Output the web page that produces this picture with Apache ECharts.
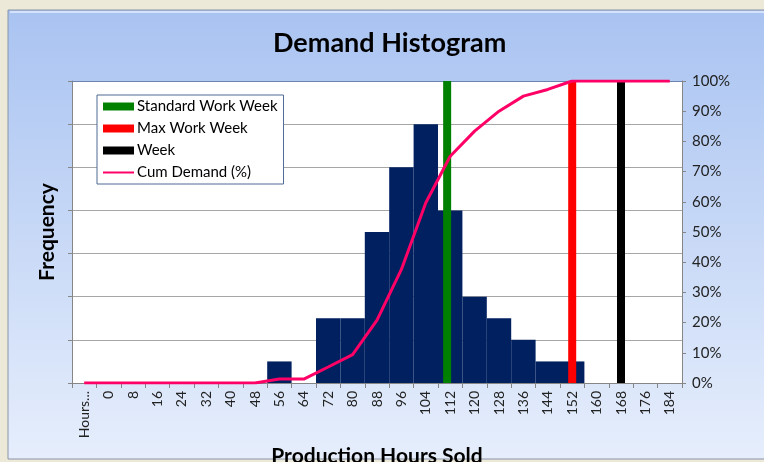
<!DOCTYPE html>
<html>
<head>
<meta charset="utf-8">
<title>Demand Histogram</title>
<script src="https://cdn.jsdelivr.net/npm/echarts@6/dist/echarts.min.js"></script>
<style>
  html, body { margin: 0; padding: 0; background: #ECE9D8; }
  #chart { width: 764px; height: 462px; }
</style>
</head>
<body>
<div id="chart"></div>
<script>
// categories on the x axis (bins of production hours)
const hourBins = ['Hours...', '0', '8', '16', '24', '32', '40', '48', '56', '64', '72', '80', '88',
  '96', '104', '112', '120', '128', '136', '144', '152', '160', '168', '176', '184'];
// frequency per bin
const frequency = [0, 0, 0, 0, 0, 0, 0, 0, 1, 0, 3, 3, 7, 10, 12, 8, 4, 3, 2, 1, 1, 0, 0, 0, 0];
// cumulative demand in %
const cumDemand = [0, 0, 0, 0, 0, 0, 0, 0, 1.3, 1.3, 5.3, 9.4, 20.8, 37.6, 59.7, 75.1, 83.4, 90, 95, 97.2, 100, 100, 100, 100, 100];
// reference weeks (hours)
const standardWorkWeek = 111;
const maxWorkWeek = 152;
const week = 168;

const font = 'Lato';
const chart = echarts.init(document.getElementById('chart'));

//一条竖线
function vline(name, hours, color) {
  return {
    name: name,
    type: 'line',
    xAxisIndex: 1,
    yAxisIndex: 1,
    symbol: 'none',
    data: [[hours, 0], [hours, 100]],
    lineStyle: { color: color, width: 8 },
    itemStyle: { color: color },
    z: 3
  };
}

const option = {
  backgroundColor: '#ECE9D8',
  animation: false,
  graphic: [
    {
      type: 'rect',
      z: -10,
      shape: { x: 8, y: 10, width: 800, height: 449 },
      style: {
        fill: new echarts.graphic.LinearGradient(0, 0, 0, 1, [
          { offset: 0, color: '#a9c3f1' },
          { offset: 1, color: '#e6eefc' }
        ]),
        stroke: '#8894a8',
        lineWidth: 1
      }
    },
    {
      type: 'line',
      z: -9,
      shape: { x1: 10, y1: 12, x2: 800, y2: 12 },
      style: { stroke: '#d4e2fc', lineWidth: 2 }
    }
  ],
  title: {
    text: 'Demand Histogram',
    left: 273,
    top: 30,
    padding: 0,
    textStyle: { fontFamily: font, fontSize: 27, fontWeight: 'bold', color: '#000' }
  },
  legend: {
    orient: 'vertical',
    left: 97,
    top: 95,
    padding: [4, 6, 4, 5],
    itemGap: 7,
    itemWidth: 31,
    itemHeight: 8,
    backgroundColor: '#fff',
    borderColor: '#4f6a95',
    borderWidth: 1,
    borderRadius: 0,
    textStyle: { fontFamily: font, fontSize: 15, color: '#000', padding: [0, 0, 0, -2] },
    data: [
      { name: 'Standard Work Week', icon: 'rect' },
      { name: 'Max Work Week', icon: 'rect' },
      { name: 'Week', icon: 'rect' },
      { name: 'Cum Demand (%)', itemStyle: { opacity: 0 } }
    ]
  },
  grid: {
    left: 72,
    right: 82,
    top: 81,
    bottom: 79,
    outerBoundsMode: 'none',
    containLabel: false,
    show: true,
    backgroundColor: '#fff',
    borderWidth: 0
  },
  xAxis: [
    {
      type: 'category',
      data: hourBins,
      boundaryGap: true,
      name: 'Production Hours Sold',
      nameLocation: 'middle',
      nameGap: 56,
      nameTextStyle: { fontFamily: font, fontSize: 21, fontWeight: 'bold', color: '#000' },
      axisLine: { lineStyle: { color: '#868686' } },
      axisTick: { show: true, length: 5, interval: 0, lineStyle: { color: '#868686' } },
      axisLabel: { interval: 0, rotate: 90, fontFamily: font, fontSize: 14, color: '#222', margin: 8 },
      splitLine: { show: false }
    },
    {
      type: 'value',
      min: -12,
      max: 188,
      position: 'top',
      axisLine: { show: true, onZero: false, lineStyle: { color: '#6b83ad' } },
      axisTick: { show: false },
      axisLabel: { show: false },
      splitLine: { show: false }
    }
  ],
  yAxis: [
    {
      type: 'value',
      min: 0,
      max: 14,
      interval: 2,
      name: 'Frequency',
      nameLocation: 'middle',
      nameGap: 14,
      nameTextStyle: { fontFamily: font, fontSize: 21, fontWeight: 'bold', color: '#000' },
      axisLine: { show: true, onZero: false, lineStyle: { color: '#868686' } },
      axisTick: { show: true, length: 4, lineStyle: { color: '#868686' } },
      axisLabel: { show: false },
      splitLine: { show: true, lineStyle: { color: '#a6a6a6' } }
    },
    {
      type: 'value',
      min: 0,
      max: 100,
      interval: 10,
      position: 'right',
      axisLine: { show: true, onZero: false, lineStyle: { color: '#868686' } },
      axisTick: { show: true, length: 4, lineStyle: { color: '#868686' } },
      axisLabel: { formatter: '{value}%', fontFamily: font, fontSize: 15, color: '#222', margin: 10 },
      splitLine: { show: false }
    }
  ],
  series: [
    {
      name: 'Frequency',
      type: 'bar',
      data: frequency,
      barCategoryGap: 0,
      itemStyle: { color: '#002060' },
      z: 2
    },
    vline('Standard Work Week', standardWorkWeek, '#008000'),
    vline('Max Work Week', maxWorkWeek, '#ff0000'),
    vline('Week', week, '#000000'),
    {
      name: 'Cum Demand (%)',
      type: 'line',
      yAxisIndex: 1,
      data: cumDemand,
      symbol: 'none',
      lineStyle: { color: '#ff0066', width: 3 },
      itemStyle: { color: '#ff0066' },
      z: 4
    }
  ]
};

chart.setOption(option);
</script>
</body>
</html>
